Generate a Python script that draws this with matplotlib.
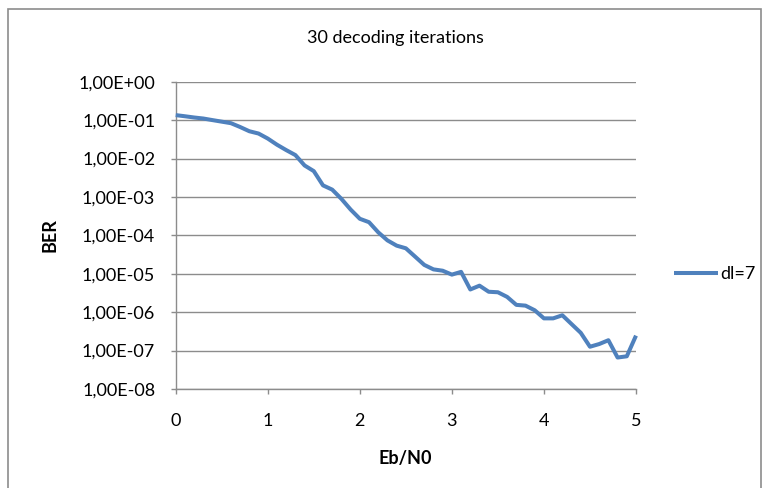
import matplotlib
matplotlib.use("Agg")
import matplotlib.pyplot as plt
from matplotlib.patches import Rectangle

ebn0 = [0.0, 0.1, 0.2, 0.3, 0.4, 0.5, 0.6, 0.7, 0.8, 0.9,
        1.0, 1.1, 1.2, 1.3, 1.4, 1.5, 1.6, 1.7, 1.8, 1.9,
        2.0, 2.1, 2.2, 2.3, 2.4, 2.5, 2.6, 2.7, 2.8, 2.9,
        3.0, 3.1, 3.2, 3.3, 3.4, 3.5, 3.6, 3.7, 3.8, 3.9,
        4.0, 4.1, 4.2, 4.3, 4.4, 4.5, 4.6, 4.7, 4.8, 4.9, 5.0]
ber = [0.135, 0.126, 0.117, 0.110, 0.100, 0.0912, 0.0832, 0.0661, 0.0513, 0.0447,
       0.0331, 0.0229, 0.0166, 0.0123, 6.6e-3, 4.7e-3, 2.0e-3, 1.55e-3, 8.9e-4, 4.7e-4,
       2.7e-4, 2.2e-4, 1.2e-4, 7.4e-5, 5.4e-5, 4.6e-5, 2.8e-5, 1.7e-5, 1.3e-5, 1.2e-5,
       9.5e-6, 1.12e-5, 3.9e-6, 4.9e-6, 3.4e-6, 3.3e-6, 2.5e-6, 1.55e-6, 1.48e-6, 1.12e-6,
       6.9e-7, 6.9e-7, 8.3e-7, 4.9e-7, 2.9e-7, 1.26e-7, 1.48e-7, 1.86e-7, 6.6e-8, 7.1e-8,
       2.45e-7]
series_name = "dl=7"
title = "30 decoding iterations"
xlabel = "Eb/N0"
ylabel = "BER"
xticks = [0, 1, 2, 3, 4, 5]
yticks = [1e0, 1e-1, 1e-2, 1e-3, 1e-4, 1e-5, 1e-6, 1e-7, 1e-8]
ytick_labels = ["1,00E+00", "1,00E-01", "1,00E-02", "1,00E-03", "1,00E-04",
                "1,00E-05", "1,00E-06", "1,00E-07", "1,00E-08"]

plt.rcParams['font.family'] = ['Lato', 'DejaVu Sans']
W, H = 769, 488
PX = 72 / 100  # points per pixel
FS = 13
fig = plt.figure(figsize=(W / 100, H / 100), dpi=100)
fig.patch.set_facecolor("white")

# outer chart border
fig.add_artist(Rectangle((8 / W, -0.01), (761 - 8) / W, 1 - 9 / H + 0.01,
                         transform=fig.transFigure, fill=False,
                         edgecolor="#8c8c8c", linewidth=1.2))

left, right, top, bottom = 175.7, 636.0, 81.7, 389.0
ax = fig.add_axes([left / W, 1 - bottom / H, (right - left) / W, (bottom - top) / H])
grid_c = "#8c8c8c"
ax.set_yscale("log")
ax.set_xlim(0, 5)
ax.set_ylim(1e-8, 1e0)
for y in yticks:
    ax.axhline(y, color=grid_c, linewidth=1.0, zorder=1)
ax.plot(ebn0, ber, color="#4F81BD", linewidth=2.9, solid_joinstyle="round",
        solid_capstyle="butt", label=series_name, zorder=3, clip_on=False)

ax.set_xticks(xticks)
ax.set_xticklabels([str(x) for x in xticks])
ax.set_yticks(yticks)
ax.set_yticklabels(ytick_labels)
ax.yaxis.set_minor_locator(matplotlib.ticker.NullLocator())
ax.tick_params(axis="both", direction="out", length=5 * PX, width=1.0, color=grid_c,
               labelsize=FS, labelcolor="black")
ax.tick_params(axis="y", pad=15.5 * PX)
ax.tick_params(axis="x", pad=32 * PX)
for lbl in ax.get_xticklabels():
    lbl.set_verticalalignment("baseline")
for s in ["top", "right"]:
    ax.spines[s].set_visible(False)
for s in ["left", "bottom"]:
    ax.spines[s].set_color(grid_c)
    ax.spines[s].set_linewidth(1.0)

fig.text(395 / W, 1 - 43.3 / H, title, ha="center", va="baseline", fontsize=FS)
fig.text(405 / W, 1 - 464 / H, xlabel, ha="center", va="baseline", fontsize=FS,
         fontweight="bold")
fig.text(50 / W, 1 - 235 / H, ylabel, ha="center", va="center", fontsize=FS,
         fontweight="bold", rotation=90)

leg = fig.legend(loc="center left", bbox_to_anchor=(674 / W, 1 - 274 / H),
                 frameon=False, fontsize=FS, handlelength=2.45, handletextpad=0.12,
                 borderaxespad=0, borderpad=0)

fig.savefig("out.png", dpi=100)
